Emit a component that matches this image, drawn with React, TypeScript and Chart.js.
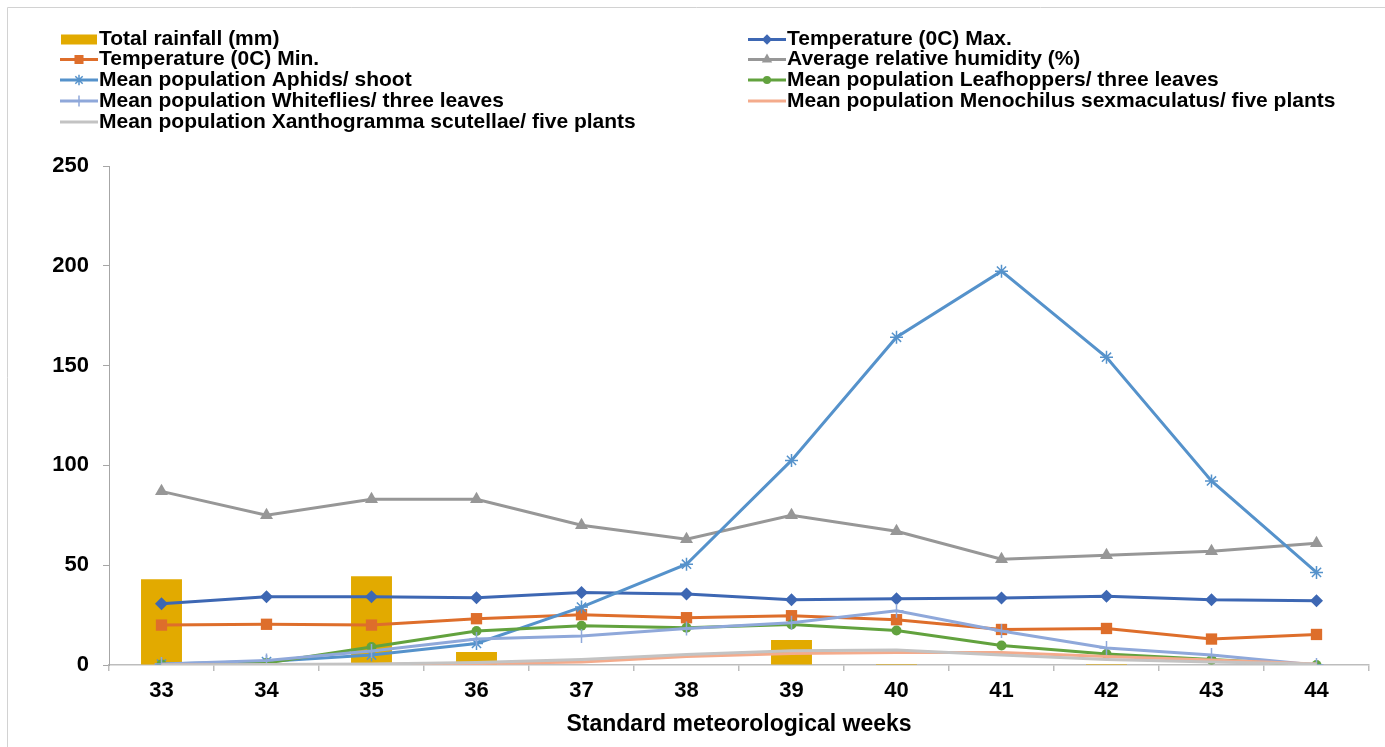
import React, { useEffect, useRef } from "react";
import { Chart, registerables } from "chart.js";

Chart.register(...registerables);

const weeks = ["33", "34", "35", "36", "37", "38", "39", "40", "41", "42", "43", "44"];
const rainfall = [43, 0.3, 44.5, 6.5, 0, 0, 12.5, 0.5, 0, 0.5, 0, 0];
const tempMax = [30.7, 34.2, 34.2, 33.7, 36.3, 35.6, 32.7, 33.2, 33.6, 34.5, 32.7, 32.2];
const tempMin = [20, 20.4, 20, 23.2, 25.2, 23.7, 24.7, 22.7, 17.8, 18.3, 13, 15.3];
const humidity = [87, 75, 83, 83, 70, 63, 75, 67, 53, 55, 57, 61];
const aphids = [0.5, 1.7, 5, 10.8, 29, 50.5, 102.5, 164.2, 197.3, 154.2, 92.2, 46.4];
const leafhoppers = [0.3, 1, 9, 17, 19.7, 18.7, 20.3, 17.3, 9.8, 5.5, 2.7, 0];
const whiteflies = [0.5, 2.3, 7, 13, 14.5, 18.3, 21.2, 27.2, 17, 8.5, 5, 0];
const menochilus = [0, 0, 0.2, 0.7, 1.5, 4.2, 5.8, 6.3, 6.3, 4.2, 2.5, 0.5];
const xanthogramma = [0, 0.3, 0.5, 1.2, 2.8, 5.3, 7.2, 7.5, 5, 2.8, 1.5, 0.5];
const yTicks = [0, 50, 100, 150, 200, 250];

const FONT = "'Liberation Sans', Arial, sans-serif";

function drawMarker(ctx: CanvasRenderingContext2D, style: string, x: number, y: number, r: number, color: string) {
  ctx.save();
  ctx.fillStyle = color;
  ctx.strokeStyle = color;
  ctx.lineWidth = 1.5;
  ctx.beginPath();
  if (style === "rectRot") {
    ctx.moveTo(x, y - r);
    ctx.lineTo(x + r, y);
    ctx.lineTo(x, y + r);
    ctx.lineTo(x - r, y);
    ctx.closePath();
    ctx.fill();
  } else if (style === "rect") {
    const s = r * Math.SQRT1_2;
    ctx.rect(x - s, y - s, 2 * s, 2 * s);
    ctx.fill();
  } else if (style === "triangle") {
    const a = r * 0.866;
    ctx.moveTo(x, y - r);
    ctx.lineTo(x + a, y + r / 2);
    ctx.lineTo(x - a, y + r / 2);
    ctx.closePath();
    ctx.fill();
  } else if (style === "circle") {
    ctx.arc(x, y, r, 0, Math.PI * 2);
    ctx.fill();
  } else if (style === "star") {
    ctx.moveTo(x - r, y);
    ctx.lineTo(x + r, y);
    ctx.moveTo(x, y - r);
    ctx.lineTo(x, y + r);
    const d = r * Math.SQRT1_2;
    ctx.moveTo(x - d, y - d);
    ctx.lineTo(x + d, y + d);
    ctx.moveTo(x - d, y + d);
    ctx.lineTo(x + d, y - d);
    ctx.stroke();
  } else if (style === "cross") {
    ctx.moveTo(x - r, y);
    ctx.lineTo(x + r, y);
    ctx.moveTo(x, y - r);
    ctx.lineTo(x, y + r);
    ctx.stroke();
  }
  ctx.restore();
}

const legendPlugin = {
  id: "customLegend",
  afterDraw(chart: any) {
    const ctx: CanvasRenderingContext2D = chart.ctx;
    ctx.save();
    // frame
    ctx.strokeStyle = "#d2d2d2";
    ctx.lineWidth = 1;
    ctx.beginPath();
    ctx.moveTo(7.5, chart.height);
    ctx.lineTo(7.5, 7.5);
    ctx.lineTo(chart.width, 7.5);
    ctx.stroke();

    const rows = [39.5, 59.5, 80, 101, 122];
    const cols = [60, 748];
    ctx.font = "bold 21px " + FONT;
    ctx.textBaseline = "middle";
    ctx.textAlign = "left";
    chart.data.datasets.forEach((ds: any, i: number) => {
      const col = i % 2;
      const row = Math.floor(i / 2);
      const x0 = cols[col];
      const y = rows[row];
      const len = 38;
      if (ds.type === "bar" || !ds.type) {
        ctx.fillStyle = ds.backgroundColor;
        ctx.fillRect(x0 + 1, y - 5, len - 2, 10);
      } else {
        ctx.strokeStyle = ds.borderColor;
        ctx.lineWidth = 3;
        ctx.beginPath();
        ctx.moveTo(x0, y);
        ctx.lineTo(x0 + len, y);
        ctx.stroke();
        if (ds.pointRadius > 0) {
          drawMarker(ctx, ds.pointStyle, x0 + len / 2, y, ds.pointRadius * 0.8, ds.borderColor);
        }
      }
      ctx.fillStyle = "#000";
      ctx.fillText(ds.label, x0 + len + 1, y);
    });
    ctx.restore();
  },
};

function lineDs(label: string, data: number[], color: string, pointStyle: string | false, radius: number, order: number) {
  return {
    type: "line" as const,
    label,
    data,
    borderColor: color,
    backgroundColor: color,
    borderWidth: 3,
    pointStyle: pointStyle || "circle",
    pointRadius: pointStyle ? radius : 0,
    pointBorderWidth: pointStyle === "star" || pointStyle === "cross" ? 1.5 : 0,
    pointBackgroundColor: color,
    pointBorderColor: color,
    tension: 0,
    order,
  };
}

export default function App() {
  const ref = useRef<HTMLCanvasElement | null>(null);
  useEffect(() => {
    if (!ref.current) return;
    const chart = new Chart(ref.current, {
      type: "bar",
      data: {
        labels: weeks,
        datasets: [
          {
            type: "bar",
            label: "Total rainfall (mm)",
            data: rainfall,
            backgroundColor: "#E2AA00",
            borderWidth: 0,
            barPercentage: 0.39,
            categoryPercentage: 1,
            order: 20,
          } as any,
          lineDs("Temperature (0C) Max.", tempMax, "#3D67B3", "rectRot", 6.5, 8),
          lineDs("Temperature (0C) Min.", tempMin, "#DE6E2B", "rect", 8, 7),
          lineDs("Average relative humidity (%)", humidity, "#979797", "triangle", 7.5, 6),
          lineDs("Mean population Aphids/ shoot", aphids, "#5592CB", "star", 6.5, 5),
          lineDs("Mean population Leafhoppers/ three leaves", leafhoppers, "#62A23E", "circle", 5, 4),
          lineDs("Mean population Whiteflies/ three leaves", whiteflies, "#8FA8DA", "cross", 7, 3),
          lineDs("Mean population Menochilus sexmaculatus/ five plants", menochilus, "#F4AB8C", false, 0, 2),
          lineDs("Mean population Xanthogramma scutellae/ five plants", xanthogramma, "#C3C3C3", false, 0, 1),
        ],
      },
      options: {
        responsive: false,
        animation: false,
        layout: { padding: { top: 166, left: 0, right: 16, bottom: 0 } },
        plugins: {
          legend: { display: false },
          tooltip: { enabled: false },
          title: { display: false },
        },
        scales: {
          x: {
            offset: true,
            grid: {
              offset: true,
              drawOnChartArea: false,
              drawTicks: true,
              tickLength: 6,
              color: "#bdbdbd",
              lineWidth: 1.5,
            },
            border: { display: true, color: "#bdbdbd", width: 1.5 },
            ticks: {
              color: "#000",
              font: { family: FONT, size: 22, weight: "bold" },
              padding: 7,
              maxRotation: 0,
            },
            title: {
              display: true,
              text: "Standard meteorological weeks",
              color: "#000",
              font: { family: FONT, size: 23, weight: "bold" },
              padding: { top: 4, bottom: 9 },
            },
            afterFit: (scale: any) => {
              scale.height = 82;
            },
          },
          y: {
            min: 0,
            max: 250,
            afterBuildTicks: (scale: any) => {
              scale.ticks = yTicks.map((v) => ({ value: v }));
            },
            grid: {
              drawOnChartArea: false,
              drawTicks: true,
              tickLength: 6,
              color: "#a6a6a6",
            },
            border: { display: true, color: "#a6a6a6", width: 1 },
            ticks: {
              color: "#000",
              font: { family: FONT, size: 22, weight: "bold" },
              padding: 14,
            },
            afterFit: (scale: any) => {
              scale.width = 109;
            },
          },
        },
      } as any,
      plugins: [legendPlugin],
    });
    return () => chart.destroy();
  }, []);
  return (
    <div style={{ position: "fixed", left: 0, top: 0, width: 1385, height: 747, background: "#fff" }}>
      <canvas ref={ref} width={1385} height={747} style={{ display: "block" }} />
    </div>
  );
}
